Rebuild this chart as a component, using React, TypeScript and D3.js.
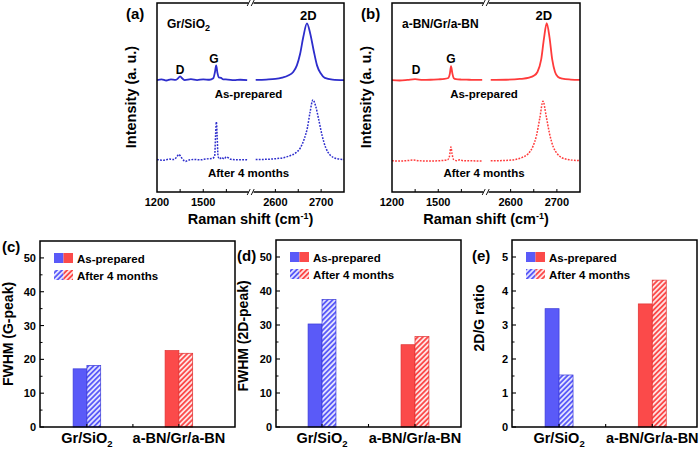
import React from "react";
import * as d3 from "d3";

type Pt = [number, number];

// ---------- Raman spectra (shift cm-1, intensity a.u. on 0-100 panel scale) ----------
const grAsLow: Pt[] = [
  [1200, 59.2], [1230, 59.6], [1260, 59.0], [1290, 59.6], [1320, 59.3], [1335, 60.0], [1350, 61.2],
  [1365, 60.0], [1380, 59.2], [1420, 59.7], [1460, 59.2], [1500, 59.6], [1540, 59.4], [1565, 60.2],
  [1576, 63.5], [1584, 67.0], [1592, 63.0], [1601, 60.6], [1615, 60.4], [1630, 59.6], [1660, 59.5],
  [1700, 59.2], [1740, 59.4], [1785, 59.2],
];
const grAsHigh: Pt[] = [
  [2557, 59.3], [2580, 59.5], [2600, 59.8], [2615, 60.5], [2628, 61.6], [2639, 63.5], [2647, 67.0],
  [2654, 73.0], [2661, 82.0], [2669, 89.2], [2676, 84.0], [2684, 74.5], [2691, 67.0], [2699, 62.8],
  [2708, 60.4], [2725, 59.5], [2750, 59.2],
];
const grAgedLow: Pt[] = [
  [1200, 17.2], [1240, 16.8], [1280, 17.4], [1310, 17.2], [1328, 18.5], [1342, 19.9], [1356, 18.5],
  [1370, 17.0], [1385, 16.2], [1400, 16.8], [1440, 17.2], [1480, 17.0], [1520, 17.5], [1560, 17.8],
  [1574, 19.0], [1580, 30.0], [1585, 37.0], [1590, 30.0], [1596, 19.0], [1605, 17.5], [1620, 18.3],
  [1635, 17.5], [1650, 18.6], [1665, 18.0], [1680, 17.3], [1720, 17.0], [1760, 17.1], [1785, 17.0],
];
const grAgedHigh: Pt[] = [
  [2557, 17.2], [2580, 17.3], [2600, 17.6], [2620, 18.3], [2632, 19.2], [2645, 20.8], [2655, 23.5],
  [2663, 28.0], [2670, 34.0], [2676, 42.5], [2682, 48.7], [2688, 45.5], [2695, 38.0], [2702, 30.0],
  [2710, 23.5], [2720, 19.5], [2735, 17.6], [2750, 17.2],
];
const bnAsLow: Pt[] = [
  [1200, 59.2], [1250, 59.0], [1300, 59.3], [1350, 59.7], [1400, 59.3], [1450, 59.4], [1500, 59.6],
  [1540, 59.8], [1565, 60.3], [1575, 62.5], [1583, 66.6], [1591, 63.0], [1600, 60.3], [1615, 59.7],
  [1650, 59.5], [1700, 59.4], [1750, 59.3], [1785, 59.3],
];
const bnAsHigh: Pt[] = [
  [2557, 59.3], [2590, 59.4], [2620, 59.8], [2640, 60.5], [2650, 61.5], [2658, 63.5], [2666, 70.0],
  [2672, 81.0], [2678, 89.4], [2684, 82.0], [2690, 70.0], [2696, 63.5], [2702, 61.0], [2712, 60.0],
  [2730, 59.5], [2750, 59.3],
];
const bnAgedLow: Pt[] = [
  [1200, 16.5], [1250, 16.4], [1300, 16.6], [1340, 16.9], [1380, 16.5], [1450, 16.4], [1520, 16.6],
  [1560, 17.0], [1573, 19.0], [1582, 23.8], [1590, 20.0], [1600, 17.2], [1620, 16.6], [1640, 17.0],
  [1660, 16.6], [1720, 16.5], [1785, 16.4],
];
const bnAgedHigh: Pt[] = [
  [2557, 16.5], [2590, 16.7], [2610, 17.2], [2625, 18.3], [2638, 20.3], [2648, 24.0], [2656, 30.0],
  [2663, 39.0], [2670, 48.0], [2677, 40.0], [2684, 31.0], [2692, 24.0], [2700, 20.5], [2712, 18.0],
  [2730, 17.0], [2750, 16.6],
];

const lowDomain = [1200, 1800];
const highDomain = [2550, 2750];
const lowTickLabels = [1200, 1500];
const lowMinorTicks = [1350, 1500, 1650];
const highTickLabels = [2600, 2700];
const highMinorTicks = [2600, 2650, 2700];

// ---------- Bar data ----------
const categories = ["Gr/SiO2", "a-BN/Gr/a-BN"];
const fwhmGAsPrepared = [17.2, 22.6];
const fwhmGAged = [18.2, 21.8];
const fwhm2DAsPrepared = [30.3, 24.2];
const fwhm2DAged = [37.5, 26.6];
const ratioAsPrepared = [3.48, 3.62];
const ratioAged = [1.53, 4.32];
const fwhmTicks = [0, 10, 20, 30, 40, 50];
const ratioTicks = [0, 1, 2, 3, 4, 5];

const FONT = "'Liberation Sans', Arial, Helvetica, sans-serif";
const BLUE_LINE = "#2d2dcc";
const RED_LINE = "#ff3b3b";
const BLUE = "#5a5af8";
const RED = "#fb4a4a";
const BLUE_EDGE = "#3a3ad8";
const RED_EDGE = "#e03030";

function BreakMark({ x, y }: { x: number; y: number }) {
  return (
    <g>
      <rect x={x - 2.5} y={y - 2} width={5} height={4} fill="#fff" />
      <line x1={x - 3.8} y1={y + 3} x2={x - 0.8} y2={y - 3} stroke="#000" strokeWidth={0.9} />
      <line x1={x + 0.2} y1={y + 3} x2={x + 3.2} y2={y - 3} stroke="#000" strokeWidth={0.9} />
    </g>
  );
}

type SpecProps = {
  left: number;
  right: number;
  color: string;
  asLow: Pt[];
  asHigh: Pt[];
  agedLow: Pt[];
  agedHigh: Pt[];
  panel: string;
  name: React.ReactNode;
  dX: number;
  gX: number;
};

function SpectraPanel(p: SpecProps) {
  const top = 3;
  const bottom = 192;
  const lowEnd = p.left + 92.5;
  const highStart = lowEnd + 3;
  const xLow = d3.scaleLinear().domain(lowDomain).range([p.left, lowEnd]);
  const xHigh = d3.scaleLinear().domain(highDomain).range([highStart, p.right]);
  const y = d3.scaleLinear().domain([0, 100]).range([bottom, top]);
  const lineLow = d3.line<Pt>().x((d) => xLow(d[0])).y((d) => y(d[1])).curve(d3.curveMonotoneX);
  const lineHigh = d3.line<Pt>().x((d) => xHigh(d[0])).y((d) => y(d[1])).curve(d3.curveMonotoneX);
  const bx = (lowEnd + highStart) / 2;
  const cx = (p.left + p.right) / 2;
  const x2D = xHigh(2672);
  return (
    <g fontFamily={FONT} fontWeight="bold">
      <path d={lineLow(p.asLow) || ""} fill="none" stroke={p.color} strokeWidth={1.8} />
      <path d={lineHigh(p.asHigh) || ""} fill="none" stroke={p.color} strokeWidth={1.8} />
      <path d={lineLow(p.agedLow) || ""} fill="none" stroke={p.color} strokeWidth={1.5} strokeDasharray="1.8,1.3" />
      <path d={lineHigh(p.agedHigh) || ""} fill="none" stroke={p.color} strokeWidth={1.5} strokeDasharray="1.8,1.3" />
      <rect x={p.left} y={top} width={p.right - p.left} height={bottom - top} fill="none" stroke="#000" strokeWidth={1.5} />
      {lowMinorTicks.map((t) => (
        <line key={"l" + t} x1={xLow(t)} x2={xLow(t)} y1={bottom} y2={bottom - 3} stroke="#000" strokeWidth={1} />
      ))}
      {highMinorTicks.map((t) => (
        <line key={"h" + t} x1={xHigh(t)} x2={xHigh(t)} y1={bottom} y2={bottom - 3} stroke="#000" strokeWidth={1} />
      ))}
      <BreakMark x={bx} y={top} />
      <BreakMark x={bx} y={bottom} />
      {lowTickLabels.map((t) => (
        <text key={"tl" + t} x={xLow(t)} y={206} fontSize={11} textAnchor="middle">{t}</text>
      ))}
      {highTickLabels.map((t) => (
        <text key={"th" + t} x={xHigh(t)} y={206} fontSize={11} textAnchor="middle">{t}</text>
      ))}
      <text x={cx} y={224} fontSize={14.5} textAnchor="middle">
        Raman shift (cm<tspan fontSize={9} dy={-5}>-1</tspan><tspan dy={5}>)</tspan>
      </text>
      <text transform={`translate(${p.left - 21},${97}) rotate(-90)`} fontSize={14.5} textAnchor="middle">
        Intensity (a. u.)
      </text>
      <text x={p.left - 31} y={19} fontSize={15}>{p.panel}</text>
      <text x={p.left + 10} y={28} fontSize={12}>{p.name}</text>
      <text x={x2D} y={20} fontSize={13} textAnchor="middle">2D</text>
      <text x={p.dX} y={74} fontSize={12} textAnchor="middle">D</text>
      <text x={p.gX} y={63} fontSize={12} textAnchor="middle">G</text>
      <text x={cx - 2} y={98} fontSize={11.5} textAnchor="middle">As-prepared</text>
      <text x={cx - 2} y={177} fontSize={11.5} textAnchor="middle">After 4 months</text>
    </g>
  );
}

type BarProps = {
  left: number;
  right: number;
  top: number;
  bottom: number;
  xDomain: [number, number];
  yMax: number;
  ticks: number[];
  asVals: number[];
  agedVals: number[];
  panel: string;
  panelX: number;
  panelY: number;
  title: string;
  titleX: number;
  titleY: number;
};

function Sub2({ text }: { text: string }) {
  if (text === "Gr/SiO2") {
    return (
      <>
        Gr/SiO<tspan fontSize={9.5} dy={4}>2</tspan>
      </>
    );
  }
  return <>{text}</>;
}

function BarPanel(p: BarProps) {
  const x = d3.scaleLinear().domain(p.xDomain).range([p.left, p.right]);
  const y = d3.scaleLinear().domain([0, p.yMax]).range([p.bottom, p.top]);
  const bw = 0.15;
  const colors = [BLUE, RED];
  const edges = [BLUE_EDGE, RED_EDGE];
  const hatches = ["url(#hatchBlue)", "url(#hatchRed)"];
  const step = p.ticks[1] - p.ticks[0];
  const minor = p.ticks.slice(0, -1).map((t) => t + step / 2);
  const lx = p.left + 14;
  return (
    <g fontFamily={FONT} fontWeight="bold">
      {categories.map((c, i) => {
        const cxv = i + 1;
        return (
          <g key={c}>
            <rect x={x(cxv - bw)} y={y(p.asVals[i])} width={x(cxv) - x(cxv - bw)} height={y(0) - y(p.asVals[i])}
              fill={colors[i]} stroke={edges[i]} strokeWidth={0.7} />
            <rect x={x(cxv)} y={y(p.agedVals[i])} width={x(cxv + bw) - x(cxv)} height={y(0) - y(p.agedVals[i])}
              fill={hatches[i]} stroke={edges[i]} strokeWidth={0.7} />
          </g>
        );
      })}
      <rect x={p.left} y={p.top} width={p.right - p.left} height={p.bottom - p.top} fill="none" stroke="#000" strokeWidth={1.5} />
      {p.ticks.map((t) => (
        <g key={"t" + t}>
          <line x1={p.left} x2={p.left + 4} y1={y(t)} y2={y(t)} stroke="#000" strokeWidth={1.1} />
          <text x={p.left - 4} y={y(t) + 4} fontSize={11} textAnchor="end">{t}</text>
        </g>
      ))}
      {minor.map((t) => (
        <line key={"m" + t} x1={p.left} x2={p.left + 2.5} y1={y(t)} y2={y(t)} stroke="#000" strokeWidth={1} />
      ))}
      {[1, 1.5, 2].map((t) => (
        <line key={"x" + t} x1={x(t)} x2={x(t)} y1={p.bottom} y2={p.bottom - 3} stroke="#000" strokeWidth={1.1} />
      ))}
      {categories.map((c, i) => (
        <text key={"c" + c} x={x(i + 1)} y={443} fontSize={14.5} textAnchor="middle"><Sub2 text={c} /></text>
      ))}
      <text transform={`translate(${p.titleX},${p.titleY}) rotate(-90)`} fontSize={14} textAnchor="middle">{p.title}</text>
      <text x={p.panelX} y={p.panelY} fontSize={15}>{p.panel}</text>
      <rect x={lx} y={p.top + 12} width={9.5} height={10} fill={BLUE} />
      <rect x={lx + 9.5} y={p.top + 12} width={9.5} height={10} fill={RED} />
      <rect x={lx} y={p.top + 29} width={9.5} height={10} fill="url(#hatchBlue)" />
      <rect x={lx + 9.5} y={p.top + 29} width={9.5} height={10} fill="url(#hatchRed)" />
      <text x={lx + 23} y={p.top + 21.5} fontSize={11.5}>As-prepared</text>
      <text x={lx + 23} y={p.top + 38.5} fontSize={11.5}>After 4 months</text>
    </g>
  );
}

export default function App() {
  return (
    <svg width={700} height={449} style={{ position: "absolute", left: 0, top: 0, background: "#fff" }}>
      <defs>
        <pattern id="hatchBlue" patternUnits="userSpaceOnUse" width={3.6} height={3.6} patternTransform="rotate(45)">
          <rect width={3.6} height={3.6} fill="#e2e2ff" />
          <line x1={0.9} y1={0} x2={0.9} y2={3.6} stroke={BLUE} strokeWidth={1.8} />
        </pattern>
        <pattern id="hatchRed" patternUnits="userSpaceOnUse" width={3.6} height={3.6} patternTransform="rotate(45)">
          <rect width={3.6} height={3.6} fill="#ffe2e2" />
          <line x1={0.9} y1={0} x2={0.9} y2={3.6} stroke={RED} strokeWidth={1.8} />
        </pattern>
      </defs>
      <rect width={700} height={449} fill="#fff" />
      <SpectraPanel left={157} right={344} color={BLUE_LINE} asLow={grAsLow} asHigh={grAsHigh}
        agedLow={grAgedLow} agedHigh={grAgedHigh} panel="(a)" dX={180} gX={214}
        name={<>Gr/SiO<tspan fontSize={9} dy={3}>2</tspan></>} />
      <SpectraPanel left={392} right={580} color={RED_LINE} asLow={bnAsLow} asHigh={bnAsHigh}
        agedLow={bnAgedLow} agedHigh={bnAgedHigh} panel="(b)" dX={416} gX={451}
        name={<>a-BN/Gr/a-BN</>} />
      <BarPanel left={40} right={235} top={241} bottom={427} xDomain={[0.49, 2.61]} yMax={55} ticks={fwhmTicks}
        asVals={fwhmGAsPrepared} agedVals={fwhmGAged} panel="(c)" panelX={2} panelY={252}
        title="FWHM (G-peak)" titleX={13} titleY={334} />
      <BarPanel left={276} right={461} top={240} bottom={427} xDomain={[0.505, 2.495]} yMax={55} ticks={fwhmTicks}
        asVals={fwhm2DAsPrepared} agedVals={fwhm2DAged} panel="(d)" panelX={237} panelY={261}
        title="FWHM (2D-peak)" titleX={248} titleY={336} />
      <BarPanel left={512} right={697} top={240} bottom={427} xDomain={[0.495, 2.48]} yMax={5.5} ticks={ratioTicks}
        asVals={ratioAsPrepared} agedVals={ratioAged} panel="(e)" panelX={472} panelY={261}
        title="2D/G ratio" titleX={484} titleY={318} />
    </svg>
  );
}
